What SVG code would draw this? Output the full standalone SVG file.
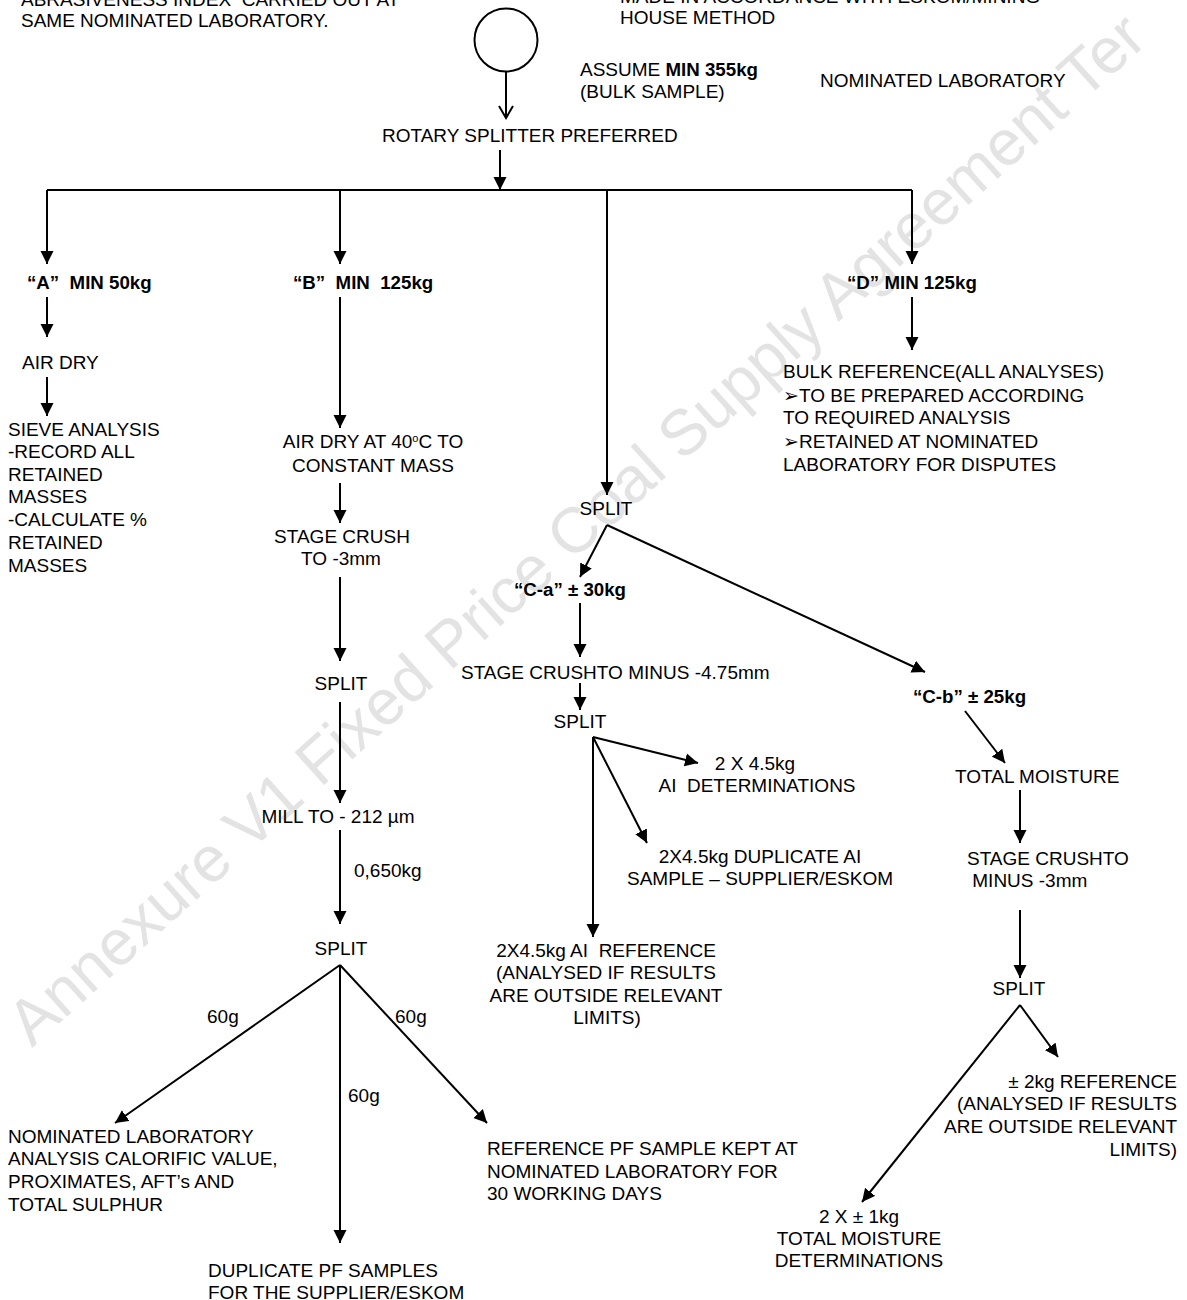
<svg xmlns="http://www.w3.org/2000/svg" width="1187" height="1300" viewBox="0 0 1187 1300">
<style>
text{font-family:"Liberation Sans",Arial,"DejaVu Sans",sans-serif;font-size:19px;fill:#000;white-space:pre}
.b{font-weight:bold;font-size:18.7px}
.m{text-anchor:middle}
.e{text-anchor:end}
.wm{font-size:64px;fill:#e3e3e3;font-weight:normal}
.c line,.c polyline{stroke:#000;stroke-width:2;fill:none}
.c circle{stroke:#000;stroke-width:2;fill:#fff}
.a{marker-end:url(#ah)}
</style>
<defs>
<marker id="ah" markerUnits="userSpaceOnUse" markerWidth="14" markerHeight="14" viewBox="0 0 14 14" refX="13" refY="7" orient="auto">
<path d="M0,0.5 L13,7 L0,13.5 z" fill="#000"/>
</marker>
</defs>
<rect width="1187" height="1300" fill="#fff"/>
<g id="watermark">
<text class="wm" transform="translate(32,1048) rotate(-42)">Annexure V1 Fixed Price Coal Supply Agreement Ter</text>
</g>
<g id="connectors" class="c">
<line x1="506" y1="72" x2="506" y2="118"/>
<polyline points="499,106 506,118 513,106"/>
<line class="a" x1="500" y1="150" x2="500" y2="190"/>
<line x1="47" y1="190" x2="912" y2="190"/>
<line class="a" x1="47" y1="190" x2="47" y2="264"/>
<line class="a" x1="340" y1="190" x2="340" y2="264"/>
<line class="a" x1="607" y1="190" x2="607" y2="495"/>
<line class="a" x1="912" y1="190" x2="912" y2="264"/>
<line class="a" x1="47" y1="297" x2="47" y2="337"/>
<line class="a" x1="47" y1="377" x2="47" y2="416"/>
<line class="a" x1="340" y1="297" x2="340" y2="428"/>
<line class="a" x1="340" y1="483" x2="340" y2="523"/>
<line class="a" x1="340" y1="577" x2="340" y2="661"/>
<line class="a" x1="340" y1="702" x2="340" y2="803"/>
<line class="a" x1="340" y1="830" x2="340" y2="924"/>
<line class="a" x1="340" y1="965" x2="115" y2="1123"/>
<line class="a" x1="340" y1="965" x2="340" y2="1243"/>
<line class="a" x1="340" y1="965" x2="487" y2="1123"/>
<line class="a" x1="607" y1="525" x2="580" y2="577"/>
<line class="a" x1="607" y1="525" x2="925" y2="672"/>
<line class="a" x1="580" y1="603" x2="580" y2="657"/>
<line class="a" x1="580" y1="683" x2="580" y2="710"/>
<line class="a" x1="593" y1="737" x2="698" y2="763"/>
<line class="a" x1="593" y1="737" x2="647" y2="843"/>
<line class="a" x1="593" y1="737" x2="593" y2="937"/>
<line class="a" x1="965" y1="711" x2="1005" y2="763"/>
<line class="a" x1="1020" y1="790" x2="1020" y2="843"/>
<line class="a" x1="1020" y1="910" x2="1020" y2="978"/>
<line class="a" x1="1020" y1="1005" x2="1058" y2="1057"/>
<line class="a" x1="1020" y1="1005" x2="862" y2="1202"/>
<line class="a" x1="912" y1="297" x2="912" y2="350"/>
</g>
<g id="note-left">
<text x="21" y="6">ABRASIVENESS INDEX  CARRIED OUT AT</text>
<text x="21" y="27">SAME NOMINATED LABORATORY.</text>
</g>
<g id="note-right">
<text x="620" y="3">MADE IN ACCORDANCE WITH ESKOM/MINING</text>
<text x="620" y="24">HOUSE METHOD</text>
</g>
<g id="start" class="c">
<circle cx="506" cy="40" r="31.5"/>
</g>
<g id="bulk">
<text x="580" y="76">ASSUME <tspan class="b">MIN 355kg</tspan></text>
<text x="580" y="98">(BULK SAMPLE)</text>
</g>
<g id="lab"><text x="820" y="87">NOMINATED LABORATORY</text></g>
<g id="rotary"><text x="382" y="142">ROTARY SPLITTER PREFERRED</text></g>
<g id="A"><text class="b" x="27" y="289">“A”  MIN 50kg</text></g>
<g id="B"><text class="b" x="293" y="289">“B”  MIN  125kg</text></g>
<g id="D"><text class="b" x="847" y="289">“D” MIN 125kg</text></g>
<g id="A-airdry"><text x="22" y="369">AIR DRY</text></g>
<g id="A-sieve">
<text x="8" y="436">SIEVE ANALYSIS</text>
<text x="8" y="458">-RECORD ALL</text>
<text x="8" y="481">RETAINED</text>
<text x="8" y="503">MASSES</text>
<text x="8" y="526">-CALCULATE %</text>
<text x="8" y="549">RETAINED</text>
<text x="8" y="572">MASSES</text>
</g>
<g id="B-airdry">
<text class="m" x="373" y="448">AIR DRY AT 40<tspan font-size="11" dy="-6">o</tspan><tspan dy="6">C TO</tspan></text>
<text class="m" x="373" y="472">CONSTANT MASS</text>
</g>
<g id="B-crush">
<text class="m" x="342" y="543">STAGE CRUSH</text>
<text class="m" x="341" y="565">TO -3mm</text>
</g>
<g id="B-split1"><text class="m" x="341" y="690">SPLIT</text></g>
<g id="B-mill"><text class="m" x="338" y="823">MILL TO - 212 µm</text></g>
<g id="B-mass"><text x="354" y="877">0,650kg</text></g>
<g id="B-split2"><text class="m" x="341" y="955">SPLIT</text></g>
<g id="B-labels">
<text x="207" y="1023">60g</text>
<text x="395" y="1023">60g</text>
<text x="348" y="1102">60g</text>
</g>
<g id="B-lab">
<text x="8" y="1143">NOMINATED LABORATORY</text>
<text x="8" y="1165">ANALYSIS CALORIFIC VALUE,</text>
<text x="8" y="1188">PROXIMATES, AFT’s AND</text>
<text x="8" y="1211">TOTAL SULPHUR</text>
</g>
<g id="B-dup">
<text x="208" y="1277">DUPLICATE PF SAMPLES</text>
<text x="208" y="1299">FOR THE SUPPLIER/ESKOM</text>
</g>
<g id="B-ref">
<text x="487" y="1155">REFERENCE PF SAMPLE KEPT AT</text>
<text x="487" y="1178">NOMINATED LABORATORY FOR</text>
<text x="487" y="1200">30 WORKING DAYS</text>
</g>
<g id="C-split"><text class="m" x="606" y="515">SPLIT</text></g>
<g id="Ca"><text class="b" x="514" y="596">“C-a” ± 30kg</text></g>
<g id="Ca-crush"><text x="461" y="679">STAGE CRUSHTO MINUS -4.75mm</text></g>
<g id="Ca-split"><text class="m" x="580" y="728">SPLIT</text></g>
<g id="Ca-det">
<text class="m" x="755" y="770">2 X 4.5kg</text>
<text class="m" x="757" y="792">AI  DETERMINATIONS</text>
</g>
<g id="Ca-dup">
<text class="m" x="760" y="863">2X4.5kg DUPLICATE AI</text>
<text class="m" x="760" y="885">SAMPLE – SUPPLIER/ESKOM</text>
</g>
<g id="Ca-ref">
<text class="m" x="606" y="957">2X4.5kg AI  REFERENCE</text>
<text class="m" x="606" y="979">(ANALYSED IF RESULTS</text>
<text class="m" x="606" y="1002">ARE OUTSIDE RELEVANT</text>
<text class="m" x="607" y="1024">LIMITS)</text>
</g>
<g id="Cb"><text class="b" x="913" y="703">“C-b” ± 25kg</text></g>
<g id="Cb-tm"><text x="955" y="783">TOTAL MOISTURE</text></g>
<g id="Cb-crush">
<text x="967" y="865">STAGE CRUSHTO</text>
<text x="967" y="887"> MINUS -3mm</text>
</g>
<g id="Cb-split"><text class="m" x="1019" y="995">SPLIT</text></g>
<g id="Cb-ref">
<text class="e" x="1177" y="1088">± 2kg REFERENCE</text>
<text class="e" x="1177" y="1110">(ANALYSED IF RESULTS</text>
<text class="e" x="1177" y="1133">ARE OUTSIDE RELEVANT</text>
<text class="e" x="1177" y="1156">LIMITS)</text>
</g>
<g id="Cb-det">
<text class="m" x="859" y="1223">2 X ± 1kg</text>
<text class="m" x="859" y="1245">TOTAL MOISTURE</text>
<text class="m" x="859" y="1267">DETERMINATIONS</text>
</g>
<g id="D-ref">
<text x="783" y="378">BULK REFERENCE(ALL ANALYSES)</text>
<text x="783" y="402">➢TO BE PREPARED ACCORDING</text>
<text x="783" y="424">TO REQUIRED ANALYSIS</text>
<text x="783" y="448">➢RETAINED AT NOMINATED</text>
<text x="783" y="471">LABORATORY FOR DISPUTES</text>
</g>
</svg>
